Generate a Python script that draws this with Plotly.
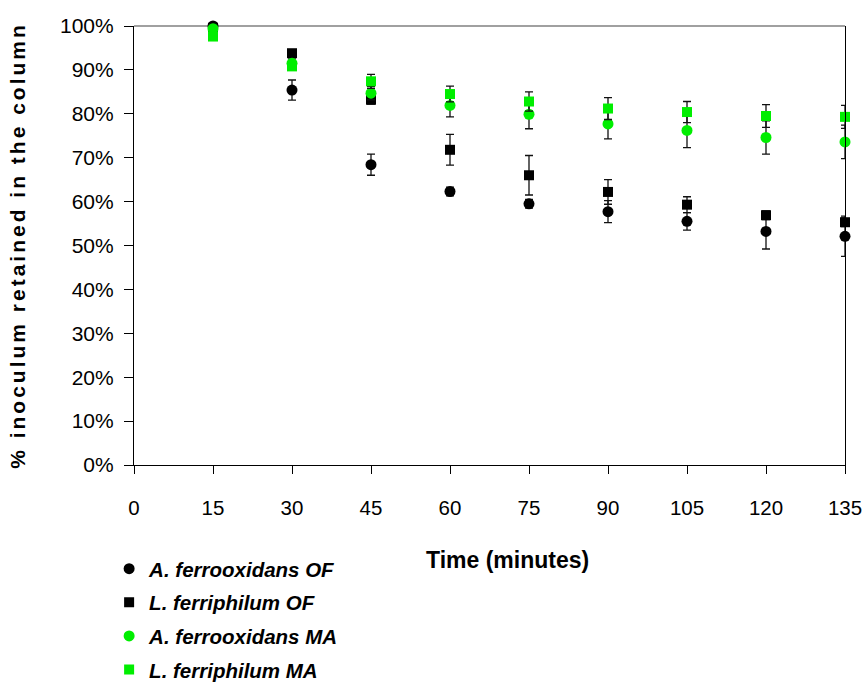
import plotly.graph_objects as go

time_min = [15, 30, 45, 60, 75, 90, 105, 120, 135]

af_of = [100.0, 85.4, 68.4, 62.3, 59.5, 57.7, 55.5, 53.2, 52.1]
af_of_err = [0.2, 2.3, 2.4, 1.0, 1.0, 2.5, 2.0, 4.0, 4.6]

lf_of = [99.6, 93.8, 83.2, 71.8, 66.0, 62.2, 59.3, 56.9, 55.3]
lf_of_err = [0.2, 0.5, 1.0, 3.5, 4.5, 2.8, 1.8, 1.0, 1.0]

af_ma = [99.4, 91.5, 84.7, 81.9, 79.9, 77.7, 76.2, 74.6, 73.6]
af_ma_err = [0.3, 1.0, 1.5, 2.6, 3.3, 3.4, 3.9, 3.8, 3.8]

lf_ma = [97.6, 90.8, 87.4, 84.5, 82.8, 81.2, 80.4, 79.5, 79.3]
lf_ma_err = [0.3, 0.5, 1.6, 1.8, 2.2, 2.5, 2.4, 2.6, 2.6]

series_names = ["A. ferrooxidans OF", "L. ferriphilum OF",
                "A. ferrooxidans MA", "L. ferriphilum MA"]
x_ticks = [0, 15, 30, 45, 60, 75, 90, 105, 120, 135]
y_ticks = [0, 10, 20, 30, 40, 50, 60, 70, 80, 90, 100]
y_tick_labels = ["%d%%" % v for v in y_ticks]

FONT = "Liberation Sans, Arial, sans-serif"
GREEN = "#00ee00"

specs = [
    (af_of, af_of_err, "circle", "black", 11),
    (lf_of, lf_of_err, "square", "black", 10),
    (af_ma, af_ma_err, "circle", GREEN, 11),
    (lf_ma, lf_ma_err, "square", GREEN, 10),
]

fig = go.Figure()
for i, (vals, errs, sym, col, sz) in enumerate(specs):
    fig.add_trace(go.Scatter(
        x=time_min, y=vals, mode="markers",
        name="<b><i>" + series_names[i] + "</i></b>",
        legendgroup="g%d" % i,
        marker=dict(symbol=sym, color=col, size=sz, line=dict(width=0)),
        error_y=dict(type="data", array=errs, visible=True,
                     color="#111111", thickness=1.3, width=4),
        cliponaxis=False,
    ))

fig.update_layout(
    width=868, height=686,
    margin=dict(l=134, r=23, t=26, b=221, autoexpand=False),
    paper_bgcolor="white", plot_bgcolor="white",
    font=dict(family=FONT, size=20, color="black"),
    showlegend=True,
    legend=dict(x=-0.035, y=-0.191, xanchor="left", yanchor="top",
                font=dict(family=FONT, size=20.5, color="black"),
                tracegroupgap=4, itemwidth=30, bgcolor="rgba(0,0,0,0)"),
    xaxis=dict(range=[0, 135], tickvals=x_ticks, ticktext=[str(v) for v in x_ticks],
               showline=True, linecolor="black", linewidth=1.2,
               ticks="outside", ticklen=8, tickcolor="black", tickwidth=1,
               ticklabelstandoff=16,
               showgrid=False, zeroline=False,
               tickfont=dict(family=FONT, size=20.5, color="black")),
    yaxis=dict(range=[0, 100], tickvals=y_ticks, ticktext=y_tick_labels,
               showline=True, linecolor="black", linewidth=1.2, mirror=True,
               ticks="outside", ticklen=9, tickcolor="black", tickwidth=1,
               ticklabelstandoff=6,
               showgrid=False, zeroline=False,
               tickfont=dict(family=FONT, size=21, color="black"),
               title=dict(text="<b>% inoculum retained in the column</b>",
                          font=dict(family=FONT, size=21, color="black"),
                          standoff=28)),
    shapes=[dict(type="line", xref="paper", yref="paper", x0=0, x1=1, y0=1, y1=1,
                 line=dict(color="#808080", width=1.5), layer="below")],
    annotations=[dict(text="<b>Time (minutes)</b>", xref="paper", yref="paper",
                      x=0.526, y=-0.216, xanchor="center", yanchor="middle",
                      showarrow=False,
                      font=dict(family=FONT, size=23, color="black"))],
)

post = """
document.querySelectorAll('.ytitle').forEach(function(e){e.style.letterSpacing='3px';});
"""
fig.write_html("out.html", post_script=post)
